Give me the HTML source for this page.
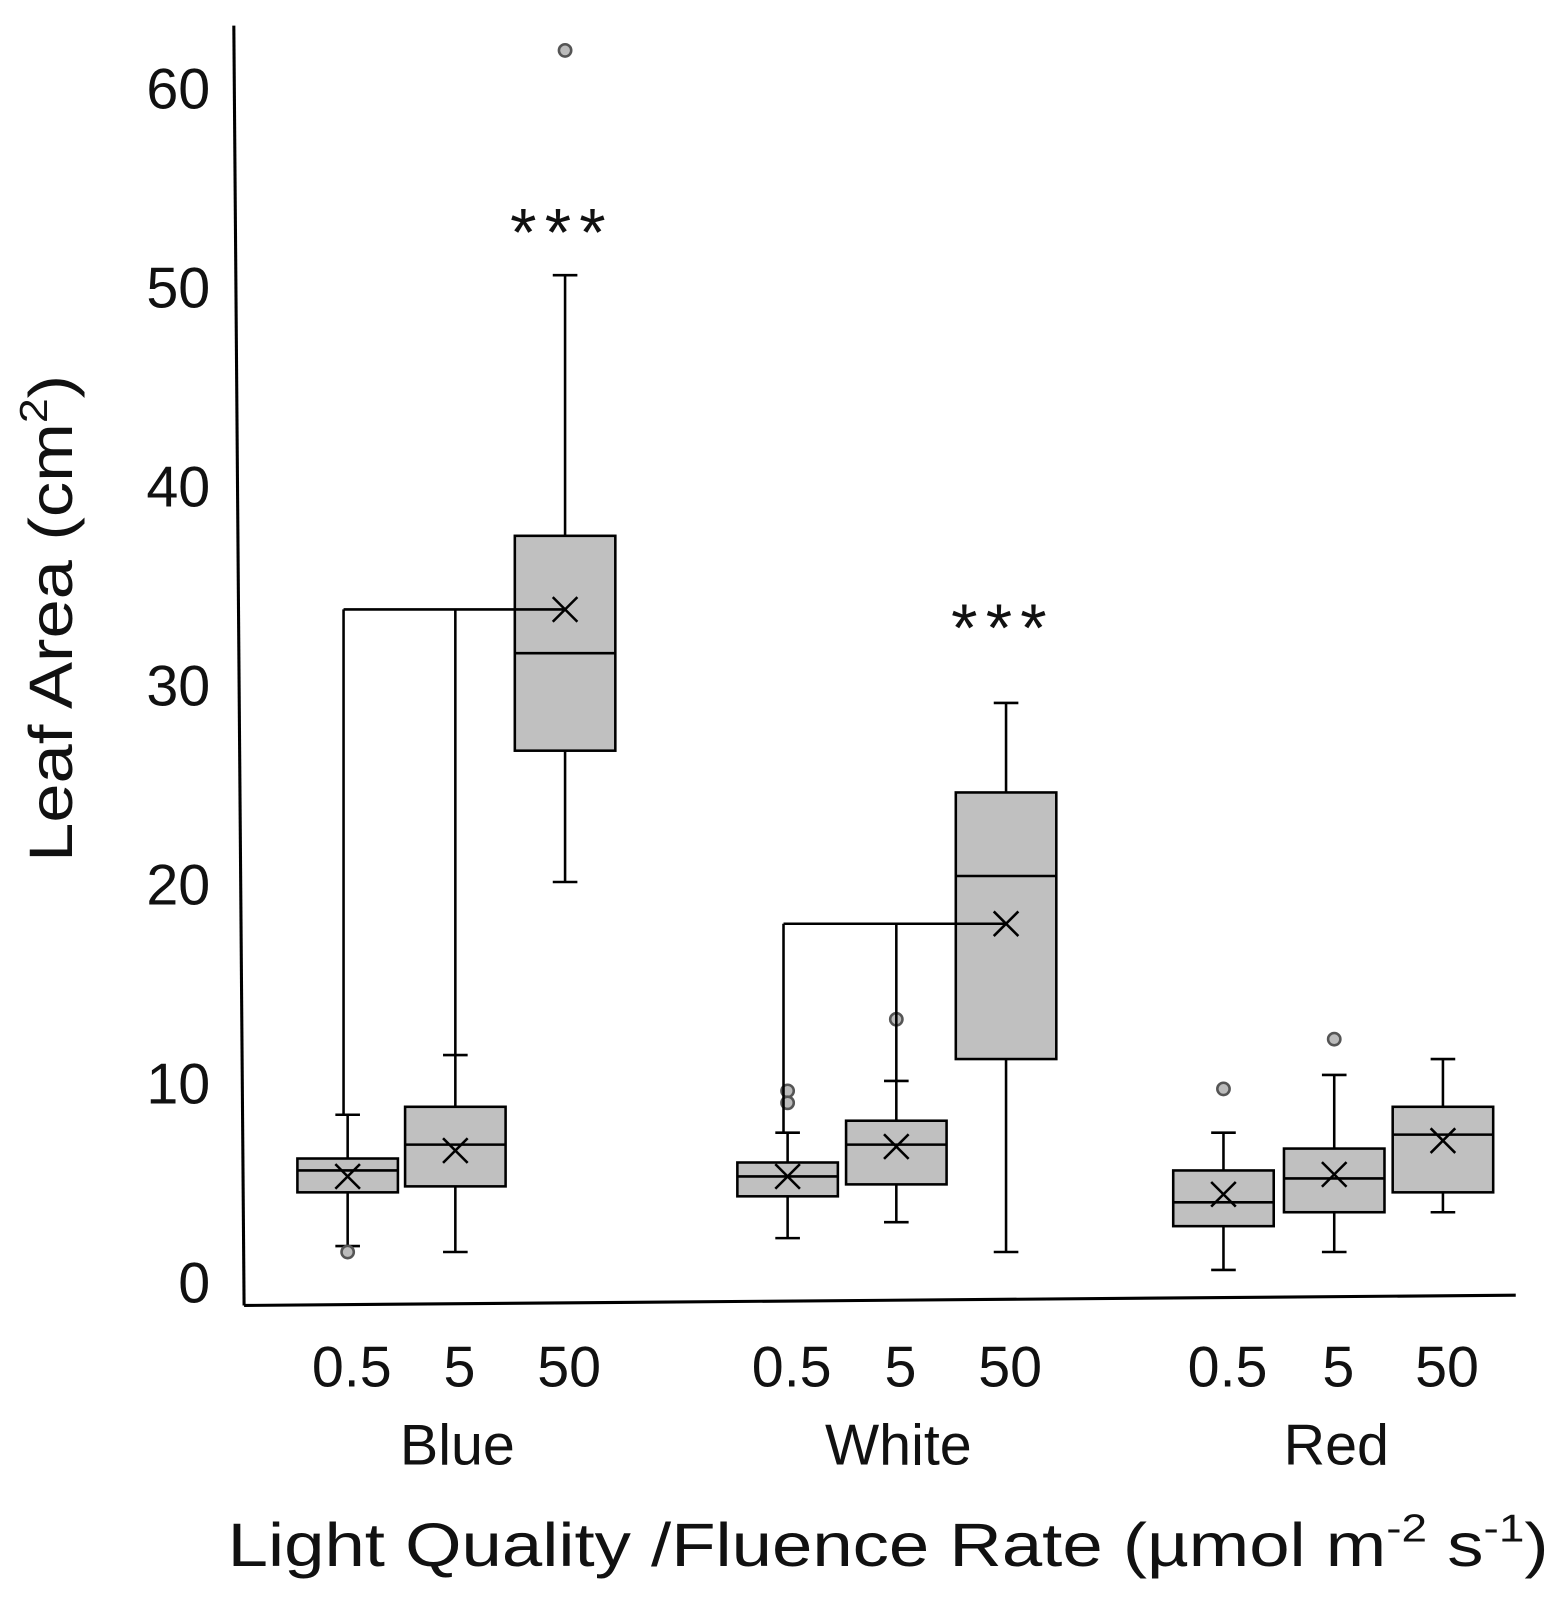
<!DOCTYPE html>
<html><head><meta charset="utf-8"><style>
html,body{margin:0;padding:0;background:#fff;}
svg{display:block;font-family:"Liberation Sans","DejaVu Sans",sans-serif;}
</style></head><body>
<svg id="chart" width="1566" height="1609" viewBox="0 0 1527 1569" preserveAspectRatio="none">
<g id="axes"></g><g id="marks"></g><g id="labels"></g>
<text x="222" y="1527" font-size="60" fill="#111" textLength="1288" lengthAdjust="spacingAndGlyphs">Light Quality /Fluence Rate (µmol m<tspan dy="-24" font-size="38">-2</tspan><tspan dy="24"> s</tspan><tspan dy="-24" font-size="38">-1</tspan><tspan dy="24">)</tspan></text>
<text transform="translate(70,603) rotate(-90)" text-anchor="middle" font-size="60" fill="#111" textLength="475" lengthAdjust="spacingAndGlyphs">Leaf Area (cm<tspan dy="-24" font-size="38">2</tspan><tspan dy="24">)</tspan></text>
</svg>
<script>
const groups = ["Blue","White","Red"];
const rates = ["0.5","5","50"];
const yTicks = [0,10,20,30,40,50,60];
const whiskLow = [1.8,1.5,20.1, 2.2,3.0,1.5, 0.6,1.5,3.5];
const q1 =       [4.5,4.8,26.7, 4.3,4.9,11.2, 2.8,3.5,4.5];
const medians =  [5.6,6.9,31.6, 5.3,6.9,20.4, 4.0,5.2,7.4];
const means =    [5.3,6.6,33.8, 5.3,6.8,18.0, 4.4,5.4,7.1];
const q3 =       [6.2,8.8,37.5, 6.0,8.1,24.6, 5.6,6.7,8.8];
const whiskHigh =[8.4,11.4,50.6, 7.5,10.1,29.1, 7.5,10.4,11.2];
const outliers = [[1.5],[],[61.9],[9.6,9.0],[13.2],[],[9.7],[12.2],[]];
const sigIdx = [2,5];
const starValues = [51.6,31.7];

const NS="http://www.w3.org/2000/svg";
const y = v => 1250 - v*19.4;
const x = i => [339,444,551, 768,874,981, 1193,1301,1407][i];
const BW = 98;
function mk(tag, attrs, parent){const e=document.createElementNS(NS,tag);for(const k in attrs)e.setAttribute(k,attrs[k]);parent.appendChild(e);return e;}
const axes=document.getElementById('axes'), marks=document.getElementById('marks'), labels=document.getElementById('labels');

let a=mk('line',{x1:228,y1:25,x2:238,y2:1273,stroke:'#000','stroke-width':3},axes);


a=mk('line',{x1:238,y1:1273,x2:1478,y2:1263,stroke:'#000','stroke-width':3},axes);



yTicks.forEach(v=>{
  const t=mk('text',{x:205,y:y(v)+20,'text-anchor':'end','font-size':56,fill:'#111'},labels);
  t.textContent=v;
  
  
});

const S={stroke:'#000','stroke-width':2.5,fill:'none'};
for(let i=0;i<9;i++){
  const g=mk('g',{},marks);
  
  
  const cx=x(i);
  mk('line',{...S,x1:cx,x2:cx,y1:y(whiskHigh[i]),y2:y(q3[i])},g);
  mk('line',{...S,x1:cx,x2:cx,y1:y(q1[i]),y2:y(whiskLow[i])},g);
  mk('line',{...S,x1:cx-12,x2:cx+12,y1:y(whiskHigh[i]),y2:y(whiskHigh[i])},g);
  mk('line',{...S,x1:cx-12,x2:cx+12,y1:y(whiskLow[i]),y2:y(whiskLow[i])},g);
  mk('rect',{x:cx-BW/2,y:y(q3[i]),width:BW,height:y(q1[i])-y(q3[i]),fill:'#c0c0c0',stroke:'#000','stroke-width':2.5},g);
  mk('line',{...S,x1:cx-BW/2,x2:cx+BW/2,y1:y(medians[i]),y2:y(medians[i])},g);
  const m=y(means[i]);
  mk('path',{...S,d:`M${cx-12} ${m-12}L${cx+12} ${m+12}M${cx-12} ${m+12}L${cx+12} ${m-12}`},g);
  outliers[i].forEach(o=>{
    const c=mk('circle',{cx:cx,cy:y(o),r:6,fill:'#bbb',stroke:'#555','stroke-width':2.5},marks);
    
    
  });
}
[[0,1,2],[3,4,5]].forEach(b=>{
  const br=mk('g',{},marks);
  
  
  const yy=y(means[b[2]]);
  mk('line',{...S,x1:x(b[0])-4,x2:x(b[2]),y1:yy,y2:yy},br);
  mk('line',{...S,x1:x(b[0])-4,x2:x(b[0])-4,y1:yy,y2:y(whiskHigh[b[0]])},br);
  mk('line',{...S,x1:x(b[1]),x2:x(b[1]),y1:yy,y2:y(whiskHigh[b[1]])},br);
});
sigIdx.forEach((i,k)=>{
  const t=mk('text',{x:x(i)-3,y:y(starValues[k]),'text-anchor':'middle','font-size':66,'letter-spacing':8,fill:'#111'},labels);
  t.textContent='***';
  
  
});
for(let i=0;i<9;i++){
  const t=mk('text',{x:x(i)+4,y:1352,'text-anchor':'middle','font-size':56,fill:'#111'},labels);
  t.textContent=rates[i%3];
  
  
}
groups.forEach((gn,k)=>{
  const t=mk('text',{x:x(k*3+1)+2,y:1428,'text-anchor':'middle','font-size':56,fill:'#111'},labels);
  t.textContent=gn;
  
  
});
</script>
</body></html>
